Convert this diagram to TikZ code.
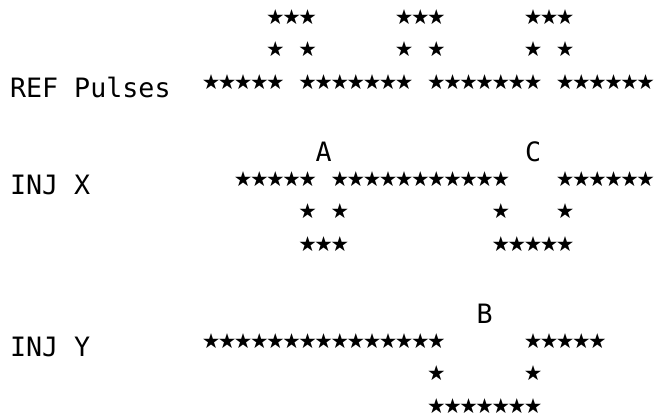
\documentclass[tikz,border=0pt]{standalone}
\usepackage{fontspec}
\newfontfamily\plotfont{DejaVu Sans Mono}
\newfontfamily\symfont{DejaVu Sans}
\usetikzlibrary{positioning}

\begin{document}
\begin{tikzpicture}[x=12.075pt, y=-24.3pt,
  pulse/.style={inner sep=0pt, font=\symfont\fontsize{15.5}{15.5}\selectfont},
  lbl/.style={inner sep=0pt, font=\plotfont\fontsize{20}{20}\selectfont}]
  \useasboundingbox (-13.106,-0.525) rectangle (27.70,12.315);

  % Zeilenbeschriftung
  \node[lbl, anchor=base west] (ref)  at (-12.5,2.47)  {REF Pulses};
  \node[lbl, anchor=base west] (injx) at (-12.5,5.47)  {INJ X};
  \node[lbl, anchor=base west] (injy) at (-12.5,10.47) {INJ Y};

  % Markierungen
  \node[lbl, anchor=base] (A) at (7,4.47)  {A};
  \node[lbl, anchor=base] (C) at (20,4.47) {C};
  \node[lbl, anchor=base] (B) at (17,9.47) {B};

  % Sternchen, Zeile fuer Zeile (Zeile/Spalten)
  \foreach \n/\cols in {
      0/{4,5,6,12,13,14,20,21,22},
      1/{4,6,12,14,20,22},
      2/{0,1,2,3,4,6,7,8,9,10,11,12,14,15,16,17,18,19,20,22,23,24,25,26,27},
      5/{2,3,4,5,6,8,9,10,11,12,13,14,15,16,17,18,22,23,24,25,26,27},
      6/{6,8,18,22},
      7/{6,7,8,18,19,20,21,22},
      10/{0,1,2,3,4,5,6,7,8,9,10,11,12,13,14,20,21,22,23,24},
      11/{14,20},
      12/{14,15,16,17,18,19,20}} {
    \foreach \c in \cols {
      \node[pulse] (s\n-\c) at (\c,\n) {★};
    }
  }
\end{tikzpicture}
\end{document}
